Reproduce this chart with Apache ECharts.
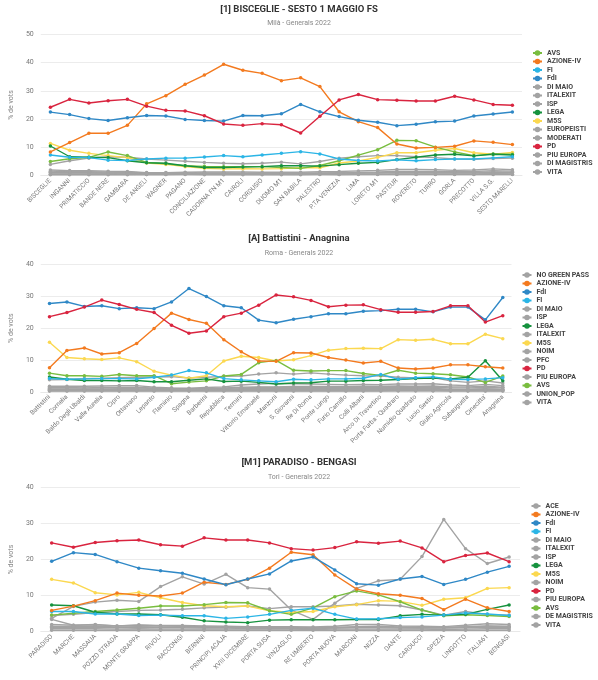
<!DOCTYPE html>
<html><head><meta charset="utf-8">
<script src="https://cdn.jsdelivr.net/npm/echarts/dist/echarts.min.js"></script>
<style>html,body{margin:0;padding:0;background:#fff}#c{width:598px;height:680px}</style>
</head><body><div id="c"></div><script>
// ---------- Panel 1: Milano ----------
const cats1 = ['BISCEGLIE','INGANNI','PRIMATICCIO','BANDE NERE','GAMBARA','DE ANGELI','WAGNER','PAGANO','CONCILIAZIONE','CADORNA FN M1','CAIROLI','CORDUSIO','DUOMO M1','SAN BABILA','PALESTRO','P.TA VENEZIA','LIMA','LORETO M1','PASTEUR','ROVERETO','TURRO','GORLA','PRECOTTO','VILLA S.G.','SESTO MARELLI'];
const mi_PD   = [24.2,27.0,25.7,26.5,27.0,24.6,23.1,22.9,21.2,18.3,17.8,18.4,18.0,15.1,21.0,26.8,28.7,26.9,26.7,26.4,26.4,28.1,26.8,25.2,24.9];
const mi_AZ   = [8.4,11.7,15.0,15.0,17.8,25.4,28.3,32.3,35.6,39.4,37.3,36.2,33.6,34.6,31.5,22.6,19.1,17.0,11.2,9.8,10.0,10.4,12.3,11.8,11.0];
const mi_FDI  = [22.5,21.6,20.2,19.5,20.5,21.3,21.1,19.9,19.5,19.3,21.3,21.2,21.9,25.2,22.6,20.9,19.6,18.9,17.7,18.2,19.1,19.3,21.1,21.8,22.5];
const mi_FI   = [7.3,6.5,6.4,5.5,5.4,5.9,6.2,6.2,6.6,7.1,6.7,7.3,7.9,8.5,7.7,5.9,5.4,5.2,5.6,5.3,5.7,5.9,5.9,6.3,6.7];
const mi_AVS  = [5.0,6.0,6.5,8.4,7.1,4.7,4.2,3.5,3.3,3.2,3.2,3.2,2.9,2.6,3.6,5.3,7.3,9.2,12.5,12.4,10.1,8.4,7.1,7.7,7.6];
const mi_LEGA = [10.5,6.7,6.5,6.4,5.3,4.6,4.4,3.5,2.9,2.9,3.1,3.2,3.5,3.5,3.4,3.9,4.4,4.7,5.7,6.5,7.3,7.6,7.0,7.6,7.3];
const mi_M5S  = [11.4,9.0,7.9,7.1,6.4,4.5,4.0,3.2,2.6,2.4,2.5,2.4,2.5,2.8,2.8,4.5,5.2,6.5,8.1,8.1,9.0,9.6,8.1,7.6,8.2];
const mi_PE   = [4.0,5.3,6.2,6.7,6.5,5.9,5.5,5.1,4.7,4.4,4.2,4.4,4.8,4.2,5.0,6.2,6.7,7.1,7.1,6.7,6.4,5.9,5.8,6.1,6.2];
const mi_ITX  = [2.0,1.8,1.8,1.6,1.5,1.1,1.1,1.2,1.3,1.3,1.3,1.2,1.2,1.2,1.4,1.5,1.7,1.9,2.2,2.2,2.1,1.9,2.0,2.4,2.1];
const mi_DM   = [1.6,1.4,1.4,1.3,1.2,1.0,1.0,1.0,1.0,1.0,0.9,0.9,0.9,0.9,1.0,1.1,1.2,1.3,1.5,1.5,1.5,1.4,1.5,1.8,1.6];
const mi_ISP  = [1.2,1.1,1.1,1.0,1.0,0.8,0.8,0.8,0.7,0.7,0.7,0.7,0.6,0.6,0.7,0.8,0.9,1.0,1.2,1.1,1.2,1.1,1.1,1.3,1.2];
const mi_DMG  = [1.0,1.0,1.0,0.9,0.9,0.8,0.8,0.8,0.7,0.7,0.7,0.7,0.7,0.7,0.8,0.9,1.0,1.1,1.3,1.2,1.2,1.1,1.1,1.2,1.1];
const mi_EUR  = [0.3,0.3,0.3,0.3,0.3,0.4,0.4,0.5,0.5,0.6,0.6,0.6,0.6,0.6,0.5,0.4,0.4,0.4,0.4,0.4,0.4,0.4,0.4,0.4,0.4];
const mi_MOD  = [0.5,0.5,0.5,0.5,0.5,0.6,0.6,0.7,0.8,0.8,0.8,0.8,0.8,0.8,0.7,0.6,0.5,0.5,0.5,0.5,0.5,0.5,0.5,0.6,0.5];
const mi_VITA = [0.6,0.6,0.6,0.6,0.5,0.4,0.4,0.4,0.3,0.3,0.3,0.3,0.3,0.3,0.4,0.4,0.5,0.5,0.6,0.6,0.6,0.6,0.6,0.7,0.6];
const legend1 = ['AVS','AZIONE-IV','FI','FdI','DI MAIO','ITALEXIT','ISP','LEGA','M5S','EUROPEISTI','MODERATI','PD','PIU EUROPA','DI MAGISTRIS','VITA'];

// ---------- Panel 2: Roma ----------
const cats2 = ['Battistini','Cornelia','Baldo Degli Ubaldi','Valle Aurelia','Cipro','Ottaviano','Lepanto','Flaminio','Spagna','Barberini','Repubblica','Termini','Vittorio Emanuele','Manzoni','S. Giovanni','Re Di Roma','Ponte Lungo','Furio Camillo','Colli Albani','Arco Di Travertino','Porta Furba - Quadraro','Numidio Quadrato','Lucio Sestio','Giulio Agricola','Subaugusta',"Cinecitta'",'Anagnina'];
const ro_FDI  = [27.7,28.2,26.8,27.0,26.1,26.4,26.1,28.2,32.4,29.9,27.0,26.4,22.5,21.7,22.8,23.6,24.5,24.5,25.3,25.5,25.9,25.9,25.1,26.6,26.6,22.6,29.6];
const ro_PD   = [23.6,24.9,26.6,28.8,27.4,25.9,24.9,20.9,18.4,19.1,23.6,24.7,27.2,30.4,29.8,28.7,26.7,27.2,27.3,25.8,25.0,25.0,25.2,27.0,27.0,21.9,23.9];
const ro_AZ   = [7.6,13.0,13.8,11.9,12.3,15.2,19.9,24.7,22.7,21.5,16.4,12.6,9.7,9.6,12.3,12.2,10.8,10.0,9.1,9.6,7.5,7.2,7.5,8.5,8.5,7.9,7.5];
const ro_M5S  = [15.6,10.8,10.4,10.2,10.7,9.5,6.5,5.3,4.3,5.1,9.7,11.2,10.8,9.7,10.1,11.4,13.1,13.6,13.7,13.6,16.4,16.2,16.5,15.1,15.1,18.1,16.7];
const ro_AVS  = [5.9,5.1,5.1,4.9,5.5,5.1,5.1,2.6,3.1,3.5,5.0,5.5,9.2,9.9,6.8,6.6,6.7,6.7,5.8,5.2,6.8,5.9,5.7,5.4,4.7,3.0,5.0];
const ro_LEGA = [4.7,4.0,3.6,3.6,3.5,3.6,3.2,3.2,3.7,4.1,3.3,3.4,3.0,2.5,2.8,2.9,3.4,3.4,3.6,3.7,3.9,4.2,4.4,4.1,4.6,9.8,3.5];
const ro_FI   = [4.2,4.0,4.1,4.2,4.2,4.1,4.6,5.3,6.7,6.0,4.2,3.8,3.5,3.2,4.0,3.8,4.1,4.1,4.3,5.5,4.0,4.5,4.7,4.0,3.9,4.1,4.5];
const ro_PE   = [3.8,3.9,4.2,4.3,4.5,4.6,4.7,4.8,4.4,4.6,4.9,5.0,5.6,6.0,5.6,6.0,5.6,5.3,5.1,5.0,4.6,4.4,4.5,3.5,3.0,3.5,2.8];
const ro_ITX  = [1.8,1.8,1.8,1.9,2.0,2.0,1.5,1.3,1.2,1.4,1.6,2.2,2.5,2.7,2.6,2.5,2.4,2.3,2.4,2.3,2.5,2.5,2.6,2.2,2.0,2.4,2.0];
const ro_NGP  = [1.4,1.4,1.3,1.4,1.5,1.5,1.2,1.1,1.0,1.1,1.3,1.5,1.6,1.6,1.7,1.7,1.7,1.7,1.8,1.8,1.9,1.8,1.9,1.6,1.6,1.8,1.5];
const ro_UP   = [1.2,1.2,1.2,1.2,1.3,1.3,1.1,1.0,0.9,1.0,1.1,1.3,1.4,1.4,1.4,1.4,1.4,1.4,1.5,1.5,1.5,1.5,1.5,1.3,1.3,1.4,1.3];
const ro_ISP  = [0.9,0.9,0.9,0.9,1.0,1.0,0.8,0.7,0.6,0.7,0.8,1.0,1.0,1.0,1.0,1.0,1.0,1.0,1.0,1.0,1.1,1.1,1.1,0.9,0.9,1.0,0.9];
const ro_DM   = [0.7,0.7,0.7,0.7,0.7,0.7,0.6,0.6,0.5,0.6,0.6,0.7,0.7,0.7,0.7,0.7,0.7,0.7,0.7,0.7,0.8,0.8,0.8,0.7,0.7,0.7,0.7];
const ro_NOIM = [0.5,0.5,0.5,0.5,0.5,0.5,0.5,0.6,0.6,0.6,0.5,0.5,0.5,0.5,0.5,0.5,0.5,0.5,0.5,0.5,0.5,0.5,0.5,0.5,0.5,0.5,0.5];
const ro_PFC  = [0.3,0.3,0.3,0.3,0.3,0.3,0.3,0.3,0.3,0.3,0.3,0.3,0.3,0.3,0.3,0.3,0.3,0.3,0.3,0.3,0.4,0.4,0.4,0.3,0.3,0.3,0.3];
const ro_VITA = [0.4,0.4,0.4,0.4,0.4,0.4,0.4,0.4,0.4,0.4,0.4,0.4,0.4,0.4,0.4,0.4,0.4,0.4,0.4,0.4,0.4,0.4,0.4,0.4,0.4,0.4,0.4];
const legend2 = ['NO GREEN PASS','AZIONE-IV','FdI','FI','DI MAIO','ISP','LEGA','ITALEXIT','M5S','NOIM','PFC','PD','PIU EUROPA','AVS','UNION_POP','VITA'];

// ---------- Panel 3: Torino ----------
const cats3 = ['PARADISO','MARCHE','MASSAUA','POZZO STRADA','MONTE GRAPPA','RIVOLI','RACCONIGI','BERNINI','PRINCIPI ACAJA','XVIII DICEMBRE','PORTA SUSA','VINZAGLIO','RE UMBERTO','PORTA NUOVA','MARCONI','NIZZA','DANTE','CARDUCCI','SPEZIA','LINGOTTO','ITALIA61','BENGASI'];
const to_PD   = [24.6,23.4,24.7,25.2,25.4,24.1,23.7,26.0,25.4,25.4,24.6,23.0,22.6,23.3,24.9,24.5,25.1,23.2,19.4,21.1,21.8,19.4];
const to_FDI  = [19.5,21.9,21.4,19.4,17.6,16.9,16.2,14.6,13.0,14.6,16.0,19.6,20.7,17.1,13.3,12.9,14.6,15.3,13.1,14.5,16.5,18.1];
const to_AZ   = [5.9,7.1,8.6,10.7,10.1,9.9,10.7,13.7,13.1,14.5,17.6,22.0,21.3,15.7,11.8,10.5,10.1,9.2,6.1,9.0,6.6,5.6];
const to_M5S  = [14.5,13.5,10.8,10.2,10.9,9.4,8.1,7.2,6.9,7.1,5.8,5.3,5.6,6.9,7.5,8.6,8.4,7.3,9.0,9.4,12.0,12.2];
const to_AVS  = [4.6,5.1,5.6,6.0,6.5,7.1,7.1,7.5,8.1,8.0,5.8,4.8,6.6,9.7,11.3,10.2,8.3,6.0,4.4,4.7,4.5,4.2];
const to_LEGA = [7.4,7.2,5.4,4.9,4.9,4.7,4.0,3.0,2.7,2.5,3.2,3.3,3.3,3.3,3.4,3.4,4.4,4.8,4.6,4.8,6.2,7.4];
const to_FI   = [5.6,5.6,4.9,4.9,4.5,4.6,4.4,4.4,3.7,4.1,4.8,5.9,6.5,4.8,3.5,3.6,3.9,4.1,4.6,5.2,4.9,4.5];
const to_ACE  = [3.7,7.0,8.2,8.7,8.4,12.5,15.2,13.2,15.9,12.2,11.8,6.0,3.4,7.9,12.0,14.1,14.5,20.8,31.1,23.0,18.9,20.7];
const to_PE   = [4.5,4.8,5.3,5.6,5.9,6.0,6.2,6.6,6.8,7.1,6.4,6.9,6.9,7.1,7.6,7.4,7.2,6.0,4.6,5.6,4.8,4.6];
const to_ITX  = [3.4,1.8,2.0,1.6,1.9,1.6,1.5,1.4,1.3,1.3,1.2,1.2,1.1,1.2,1.4,1.5,1.3,1.3,1.2,1.4,1.6,1.5];
const to_DM   = [2.0,1.8,1.9,1.6,1.8,1.7,1.7,1.6,1.5,1.4,1.4,1.4,1.3,1.5,2.0,2.0,1.6,1.5,1.4,1.8,2.2,2.0];
const to_DMG  = [1.5,1.4,1.5,1.3,1.4,1.3,1.3,1.2,1.2,1.1,1.1,1.1,1.0,1.1,1.3,1.3,1.2,1.1,1.1,1.3,1.5,1.4];
const to_ISP  = [1.2,1.2,1.3,1.1,1.2,1.1,1.1,1.0,1.0,0.9,0.9,0.9,0.9,1.0,1.1,1.1,1.0,1.0,1.0,1.1,1.2,1.2];
const to_NOIM = [0.8,0.8,0.8,0.7,0.8,0.7,0.7,0.7,0.7,0.7,0.7,0.7,0.6,0.7,0.7,0.7,0.7,0.7,0.6,0.7,0.8,0.8];
const to_VITA = [0.4,0.4,0.4,0.4,0.4,0.4,0.4,0.4,0.4,0.4,0.4,0.4,0.4,0.4,0.4,0.4,0.4,0.4,0.4,0.4,0.4,0.4];
const legend3 = ['ACE','AZIONE-IV','FdI','FI','DI MAIO','ITALEXIT','ISP','LEGA','M5S','NOIM','PD','PIU EUROPA','AVS','DE MAGISTRIS','VITA'];

// ---------- styling ----------
const GRAY = '#a3a3a3';
const COL = {PD:'#d9243f','AZIONE-IV':'#f37a1f',FdI:'#2f88c6',FI:'#2bb5e6',LEGA:'#16923e',AVS:'#79bd3f',M5S:'#fbd850'};
const FONT = "Roboto, sans-serif";

const panels = [
  {title:'[1] BISCEGLIE - SESTO 1 MAGGIO FS', sub:'Milà - Generals 2022', tTop:5, sTop:19.5,
   cats:cats1, ymax:50, grid:{left:34.5,right:76,top:34.3,height:141.4}, legend:legend1, lLeft:532, lTop:49.5,
   series:[['DI MAIO',mi_DM],['ITALEXIT',mi_ITX],['ISP',mi_ISP],['EUROPEISTI',mi_EUR],['MODERATI',mi_MOD],['DI MAGISTRIS',mi_DMG],['VITA',mi_VITA],['PIU EUROPA',mi_PE],
           ['M5S',mi_M5S],['AVS',mi_AVS],['LEGA',mi_LEGA],['FI',mi_FI],['AZIONE-IV',mi_AZ],['FdI',mi_FDI],['PD',mi_PD]]},
  {title:'[A] Battistini - Anagnina', sub:'Roma - Generals 2022', tTop:233.5, sTop:249.5,
   cats:cats2, ymax:40, grid:{left:34,right:86.5,top:264.3,height:127.7}, legend:legend2, lLeft:521.5, lTop:271.5,
   series:[['NO GREEN PASS',ro_NGP],['DI MAIO',ro_DM],['ISP',ro_ISP],['ITALEXIT',ro_ITX],['NOIM',ro_NOIM],['PFC',ro_PFC],['UNION_POP',ro_UP],['VITA',ro_VITA],['PIU EUROPA',ro_PE],
           ['M5S',ro_M5S],['AVS',ro_AVS],['LEGA',ro_LEGA],['FI',ro_FI],['AZIONE-IV',ro_AZ],['FdI',ro_FDI],['PD',ro_PD]]},
  {title:'[M1] PARADISO - BENGASI', sub:'Tori - Generals 2022', tTop:458, sTop:473.5,
   cats:cats3, ymax:40, grid:{left:33,right:78,top:487.3,height:144.4}, legend:legend3, lLeft:530.5, lTop:502.5,
   series:[['DI MAIO',to_DM],['ITALEXIT',to_ITX],['ISP',to_ISP],['NOIM',to_NOIM],['DE MAGISTRIS',to_DMG],['VITA',to_VITA],['PIU EUROPA',to_PE],['ACE',to_ACE],
           ['M5S',to_M5S],['AVS',to_AVS],['LEGA',to_LEGA],['FI',to_FI],['AZIONE-IV',to_AZ],['FdI',to_FDI],['PD',to_PD]]}
];

const option = {backgroundColor:'#fff', animation:false, title:[], grid:[], xAxis:[], yAxis:[], legend:[], series:[]};
panels.forEach((p,i)=>{
  option.title.push({text:p.title,left:'center',top:p.tTop,padding:0,textStyle:{fontFamily:FONT,fontSize:9.5,fontWeight:'bold',color:'#333'}});
  option.title.push({text:p.sub,left:'center',top:p.sTop,padding:0,textStyle:{fontFamily:FONT,fontSize:7,fontWeight:'normal',color:'#888'}});
  option.grid.push(p.grid);
  option.xAxis.push({type:'category',gridIndex:i,data:p.cats,boundaryGap:true,
    axisLine:{show:true,lineStyle:{color:'#e8e8e8'}},axisTick:{show:false},
    axisLabel:{interval:0,rotate:45,fontSize:6.5,color:'#777',margin:4,fontFamily:FONT}});
  option.yAxis.push({type:'value',gridIndex:i,min:0,max:p.ymax,interval:10,name:'% de vots',nameLocation:'middle',nameGap:21,
    nameTextStyle:{fontSize:7,color:'#888',fontFamily:FONT},
    axisLine:{show:false},axisTick:{show:false},axisLabel:{fontSize:7,color:'#777',margin:7,fontFamily:FONT},
    splitLine:{lineStyle:{color:'#ececec',width:1}}});
  option.legend.push({data:p.legend,orient:'vertical',left:p.lLeft,top:p.lTop,padding:0,itemWidth:9,itemHeight:7,itemGap:1.5,
    textStyle:{fontSize:7,fontWeight:'bold',color:'#444',lineHeight:7,fontFamily:FONT}});
  p.series.forEach(([name,data])=>{
    const c = COL[name] || GRAY;
    option.series.push({type:'line',name,data,xAxisIndex:i,yAxisIndex:i,symbol:'circle',symbolSize:3.5,
      itemStyle:{color:c},lineStyle:{color:c,width:1.4},emphasis:{disabled:true}});
  });
});
const chart = echarts.init(document.getElementById('c'),null,{renderer:'canvas'});
chart.setOption(option);
</script></body></html>
